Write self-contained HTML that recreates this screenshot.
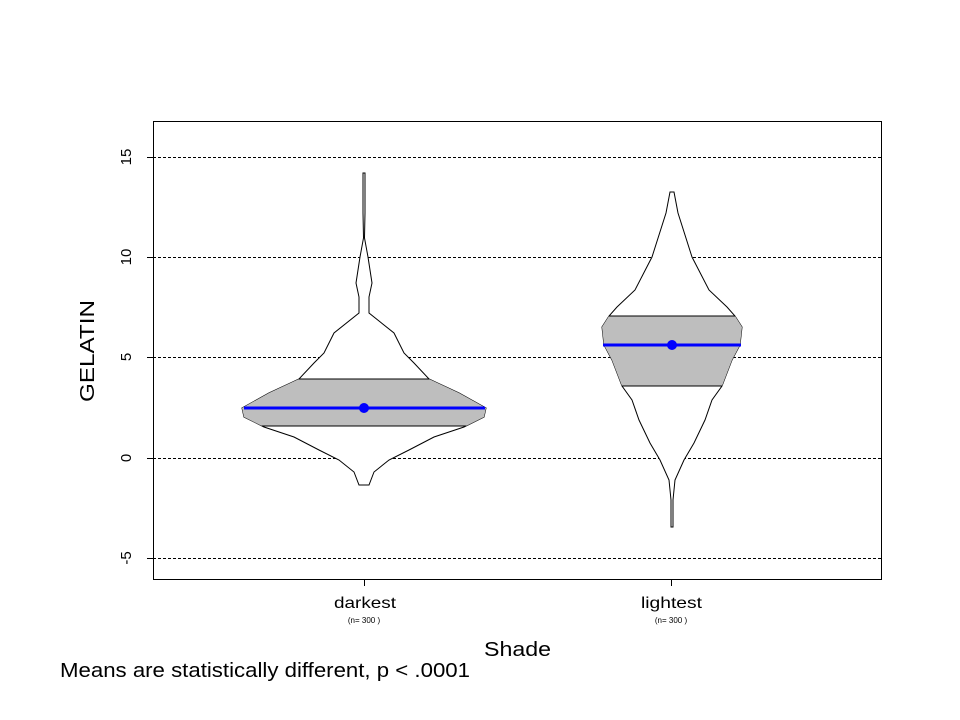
<!DOCTYPE html>
<html><head><meta charset="utf-8"><style>body{margin:0;background:#fff}svg{display:block}</style></head><body>
<svg width="960" height="720" xmlns="http://www.w3.org/2000/svg" font-family="Liberation Sans, Arial, sans-serif">
<defs>
<clipPath id="c1"><path d="M365,173 L365,213 L364.5,238 L368,257 L372,283 L369,297 L369,313 L394,333 L404,353 L414,363 L429,379 L459,393 L486,408 L484,417 L464,427 L434,437 L409,450 L389,460 L374,472 L369,485 L359,485 L354,472 L339,460 L319,450 L294,437 L264,427 L244,417 L242,408 L269,393 L299,379 L314,363 L324,353 L334,333 L359,313 L359,297 L356,283 L360,257 L363.5,238 L363,213 L363,173 Z"/></clipPath>
<clipPath id="c2"><path d="M674,192 L678,213 L692,257 L709,290 L727,307 L735,316 L742,327 L740,345 L732,360 L722,386 L712,400 L705,420 L694,443 L684,460 L675,480 L673,500 L673,527 L671,527 L671,500 L669,480 L660,460 L650,443 L639,420 L632,400 L622,386 L612,360 L604,345 L602,327 L609,316 L617,307 L635,290 L652,257 L666,213 L670,192 Z"/></clipPath>
</defs>
<g stroke="#000" stroke-width="1" stroke-dasharray="3,2">
<line x1="153" x2="882" y1="157.5" y2="157.5"/><line x1="153" x2="882" y1="257.5" y2="257.5"/><line x1="153" x2="882" y1="357.5" y2="357.5"/><line x1="153" x2="882" y1="458.5" y2="458.5"/><line x1="153" x2="882" y1="558.5" y2="558.5"/>
</g>
<path d="M365,173 L365,213 L364.5,238 L368,257 L372,283 L369,297 L369,313 L394,333 L404,353 L414,363 L429,379 L459,393 L486,408 L484,417 L464,427 L434,437 L409,450 L389,460 L374,472 L369,485 L359,485 L354,472 L339,460 L319,450 L294,437 L264,427 L244,417 L242,408 L269,393 L299,379 L314,363 L324,353 L334,333 L359,313 L359,297 L356,283 L360,257 L363.5,238 L363,213 L363,173 Z" fill="#fff" stroke="#000"/>
<path d="M674,192 L678,213 L692,257 L709,290 L727,307 L735,316 L742,327 L740,345 L732,360 L722,386 L712,400 L705,420 L694,443 L684,460 L675,480 L673,500 L673,527 L671,527 L671,500 L669,480 L660,460 L650,443 L639,420 L632,400 L622,386 L612,360 L604,345 L602,327 L609,316 L617,307 L635,290 L652,257 L666,213 L670,192 Z" fill="#fff" stroke="#000"/>
<rect x="200" y="379" width="330" height="47" fill="#bebebe" stroke="#000" clip-path="url(#c1)"/>
<rect x="580" y="316" width="180" height="70" fill="#bebebe" stroke="#000" clip-path="url(#c2)"/>
<line x1="244" x2="485" y1="408" y2="408" stroke="#0000ff" stroke-width="3"/>
<circle cx="364" cy="408" r="5" fill="#0000ff"/>
<line x1="603" x2="741" y1="345" y2="345" stroke="#0000ff" stroke-width="3"/>
<circle cx="672" cy="345" r="5" fill="#0000ff"/>
<rect x="153.5" y="121.5" width="728" height="458" fill="none" stroke="#000"/>
<g stroke="#000"><line x1="147" x2="153" y1="157.5" y2="157.5"/><line x1="147" x2="153" y1="257.5" y2="257.5"/><line x1="147" x2="153" y1="357.5" y2="357.5"/><line x1="147" x2="153" y1="458.5" y2="458.5"/><line x1="147" x2="153" y1="558.5" y2="558.5"/>
<line x1="364.5" x2="364.5" y1="580" y2="586"/><line x1="671.5" x2="671.5" y1="580" y2="586"/></g>
<g font-size="15" text-anchor="middle">
<text transform="translate(131,157) rotate(-90)">15</text>
<text transform="translate(131,257) rotate(-90)">10</text>
<text transform="translate(131,357) rotate(-90)">5</text>
<text transform="translate(131,458) rotate(-90)">0</text>
<text transform="translate(131,558) rotate(-90)">-5</text>
</g>
<g font-size="16">
<text x="334" y="608" textLength="62" lengthAdjust="spacingAndGlyphs">darkest</text>
<text x="641" y="608" textLength="61" lengthAdjust="spacingAndGlyphs">lightest</text>
</g>
<g font-size="8" text-anchor="middle"><text x="364" y="623">(n= 300 )</text><text x="671" y="623">(n= 300 )</text></g>
<text x="484" y="656" font-size="20" textLength="67" lengthAdjust="spacingAndGlyphs">Shade</text>
<text transform="translate(94,402) rotate(-90)" font-size="20" textLength="102" lengthAdjust="spacingAndGlyphs">GELATIN</text>
<text x="60" y="677" font-size="20" textLength="410" lengthAdjust="spacingAndGlyphs">Means are statistically different,  p &lt; .0001</text>
</svg>
</body></html>
